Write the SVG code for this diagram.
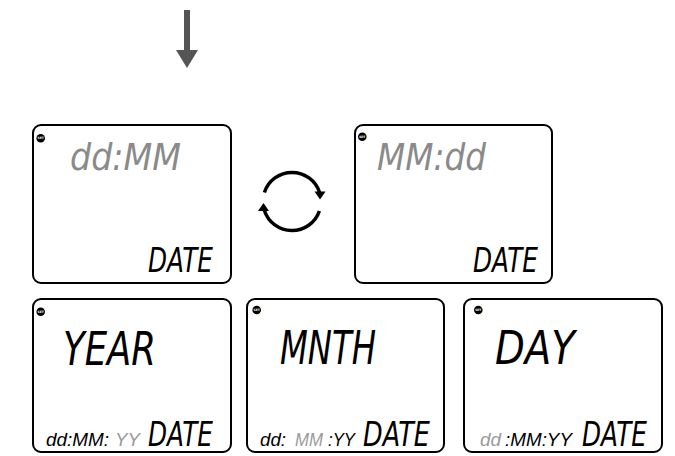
<svg xmlns="http://www.w3.org/2000/svg" width="675" height="456" viewBox="0 0 675 456">
<style>
.box{fill:#fff;stroke:#000;stroke-width:2}
.dot{fill:#000}
.set{font-family:"DejaVu Sans",sans-serif;font-size:3px;fill:#fff;text-anchor:middle;font-weight:bold}
.lcd{font-family:"DejaVu Sans","Liberation Sans",sans-serif;font-style:italic}
.sm{font-family:"Liberation Sans","DejaVu Sans",sans-serif;font-style:italic;font-size:19px}
.big{font-size:46px}
.top{font-size:38px}
.mid{font-size:33px}
.k{fill:#000}
.g{fill:#8a8a8a}
.lg{fill:#9a9a9a}
.arc{fill:none;stroke:#000;stroke-width:3.5}
</style>
<rect width="675" height="456" fill="#fff"/>
<g id="connectors">
<g id="down-arrow" fill="#555">
<rect x="184" y="10" width="6" height="42"/>
<polygon points="176,50 198,50 187,68"/>
</g>
<g id="cycle">
<path class="arc" d="M 264.4 192.5 A 29 29 0 0 1 319.6 192.5"/>
<polygon points="314.5,191.5 325.5,191.5 320,199.5"/>
<path class="arc" d="M 319.4 211 A 29 29 0 0 1 264.4 210.5"/>
<polygon points="258,211 269,211 263.5,203"/>
</g>
</g>
<g id="node-ddmm">
<rect class="box" x="33" y="125" width="198" height="158" rx="8"/>
<circle class="dot" cx="40.7" cy="138.3" r="4.3"/>
<text class="set" x="40.7" y="139.4">SET</text>
<text class="lcd top g" x="70" y="170" textLength="111" lengthAdjust="spacingAndGlyphs">dd:MM</text>
<text class="lcd mid k" x="148" y="272" textLength="65" lengthAdjust="spacingAndGlyphs">DATE</text>
</g>
<g id="node-mmdd">
<rect class="box" x="355" y="125" width="197" height="158" rx="8"/>
<circle class="dot" cx="362.3" cy="136.7" r="4.3"/>
<text class="set" x="362.3" y="137.8">SET</text>
<text class="lcd top g" x="377" y="170" textLength="109" lengthAdjust="spacingAndGlyphs">MM:dd</text>
<text class="lcd mid k" x="473" y="272" textLength="65" lengthAdjust="spacingAndGlyphs">DATE</text>
</g>
<g id="node-year">
<rect class="box" x="33" y="299" width="198" height="153" rx="8"/>
<circle class="dot" cx="40.7" cy="311.7" r="4.3"/>
<text class="set" x="40.7" y="312.8">SET</text>
<text class="lcd big k" x="63" y="365" textLength="93" lengthAdjust="spacingAndGlyphs">YEAR</text>
<text class="sm k" x="46" y="446" textLength="63" lengthAdjust="spacingAndGlyphs">dd:MM:</text>
<text class="sm lg" x="115" y="446" textLength="25" lengthAdjust="spacingAndGlyphs">YY</text>
<text class="lcd mid k" x="148" y="446" textLength="65" lengthAdjust="spacingAndGlyphs">DATE</text>
</g>
<g id="node-mnth">
<rect class="box" x="247" y="299" width="197" height="153" rx="8"/>
<circle class="dot" cx="256.7" cy="310" r="4.3"/>
<text class="set" x="256.7" y="311.1">SET</text>
<text class="lcd big k" x="280" y="364" textLength="96" lengthAdjust="spacingAndGlyphs">MNTH</text>
<text class="sm k" x="260" y="446" textLength="26" lengthAdjust="spacingAndGlyphs">dd:</text>
<text class="sm lg" x="295" y="446" textLength="28" lengthAdjust="spacingAndGlyphs">MM</text>
<text class="sm k" x="328" y="446" textLength="27" lengthAdjust="spacingAndGlyphs">:YY</text>
<text class="lcd mid k" x="363" y="446" textLength="67" lengthAdjust="spacingAndGlyphs">DATE</text>
</g>
<g id="node-day">
<rect class="box" x="464" y="299" width="198" height="153" rx="8"/>
<circle class="dot" cx="478.3" cy="310" r="4.3"/>
<text class="set" x="478.3" y="311.1">SET</text>
<text class="lcd big k" x="495" y="364" textLength="80" lengthAdjust="spacingAndGlyphs">DAY</text>
<text class="sm lg" x="480" y="446" textLength="21" lengthAdjust="spacingAndGlyphs">dd</text>
<text class="sm k" x="505" y="446" textLength="67" lengthAdjust="spacingAndGlyphs">:MM:YY</text>
<text class="lcd mid k" x="582" y="446" textLength="65" lengthAdjust="spacingAndGlyphs">DATE</text>
</g>
</svg>
